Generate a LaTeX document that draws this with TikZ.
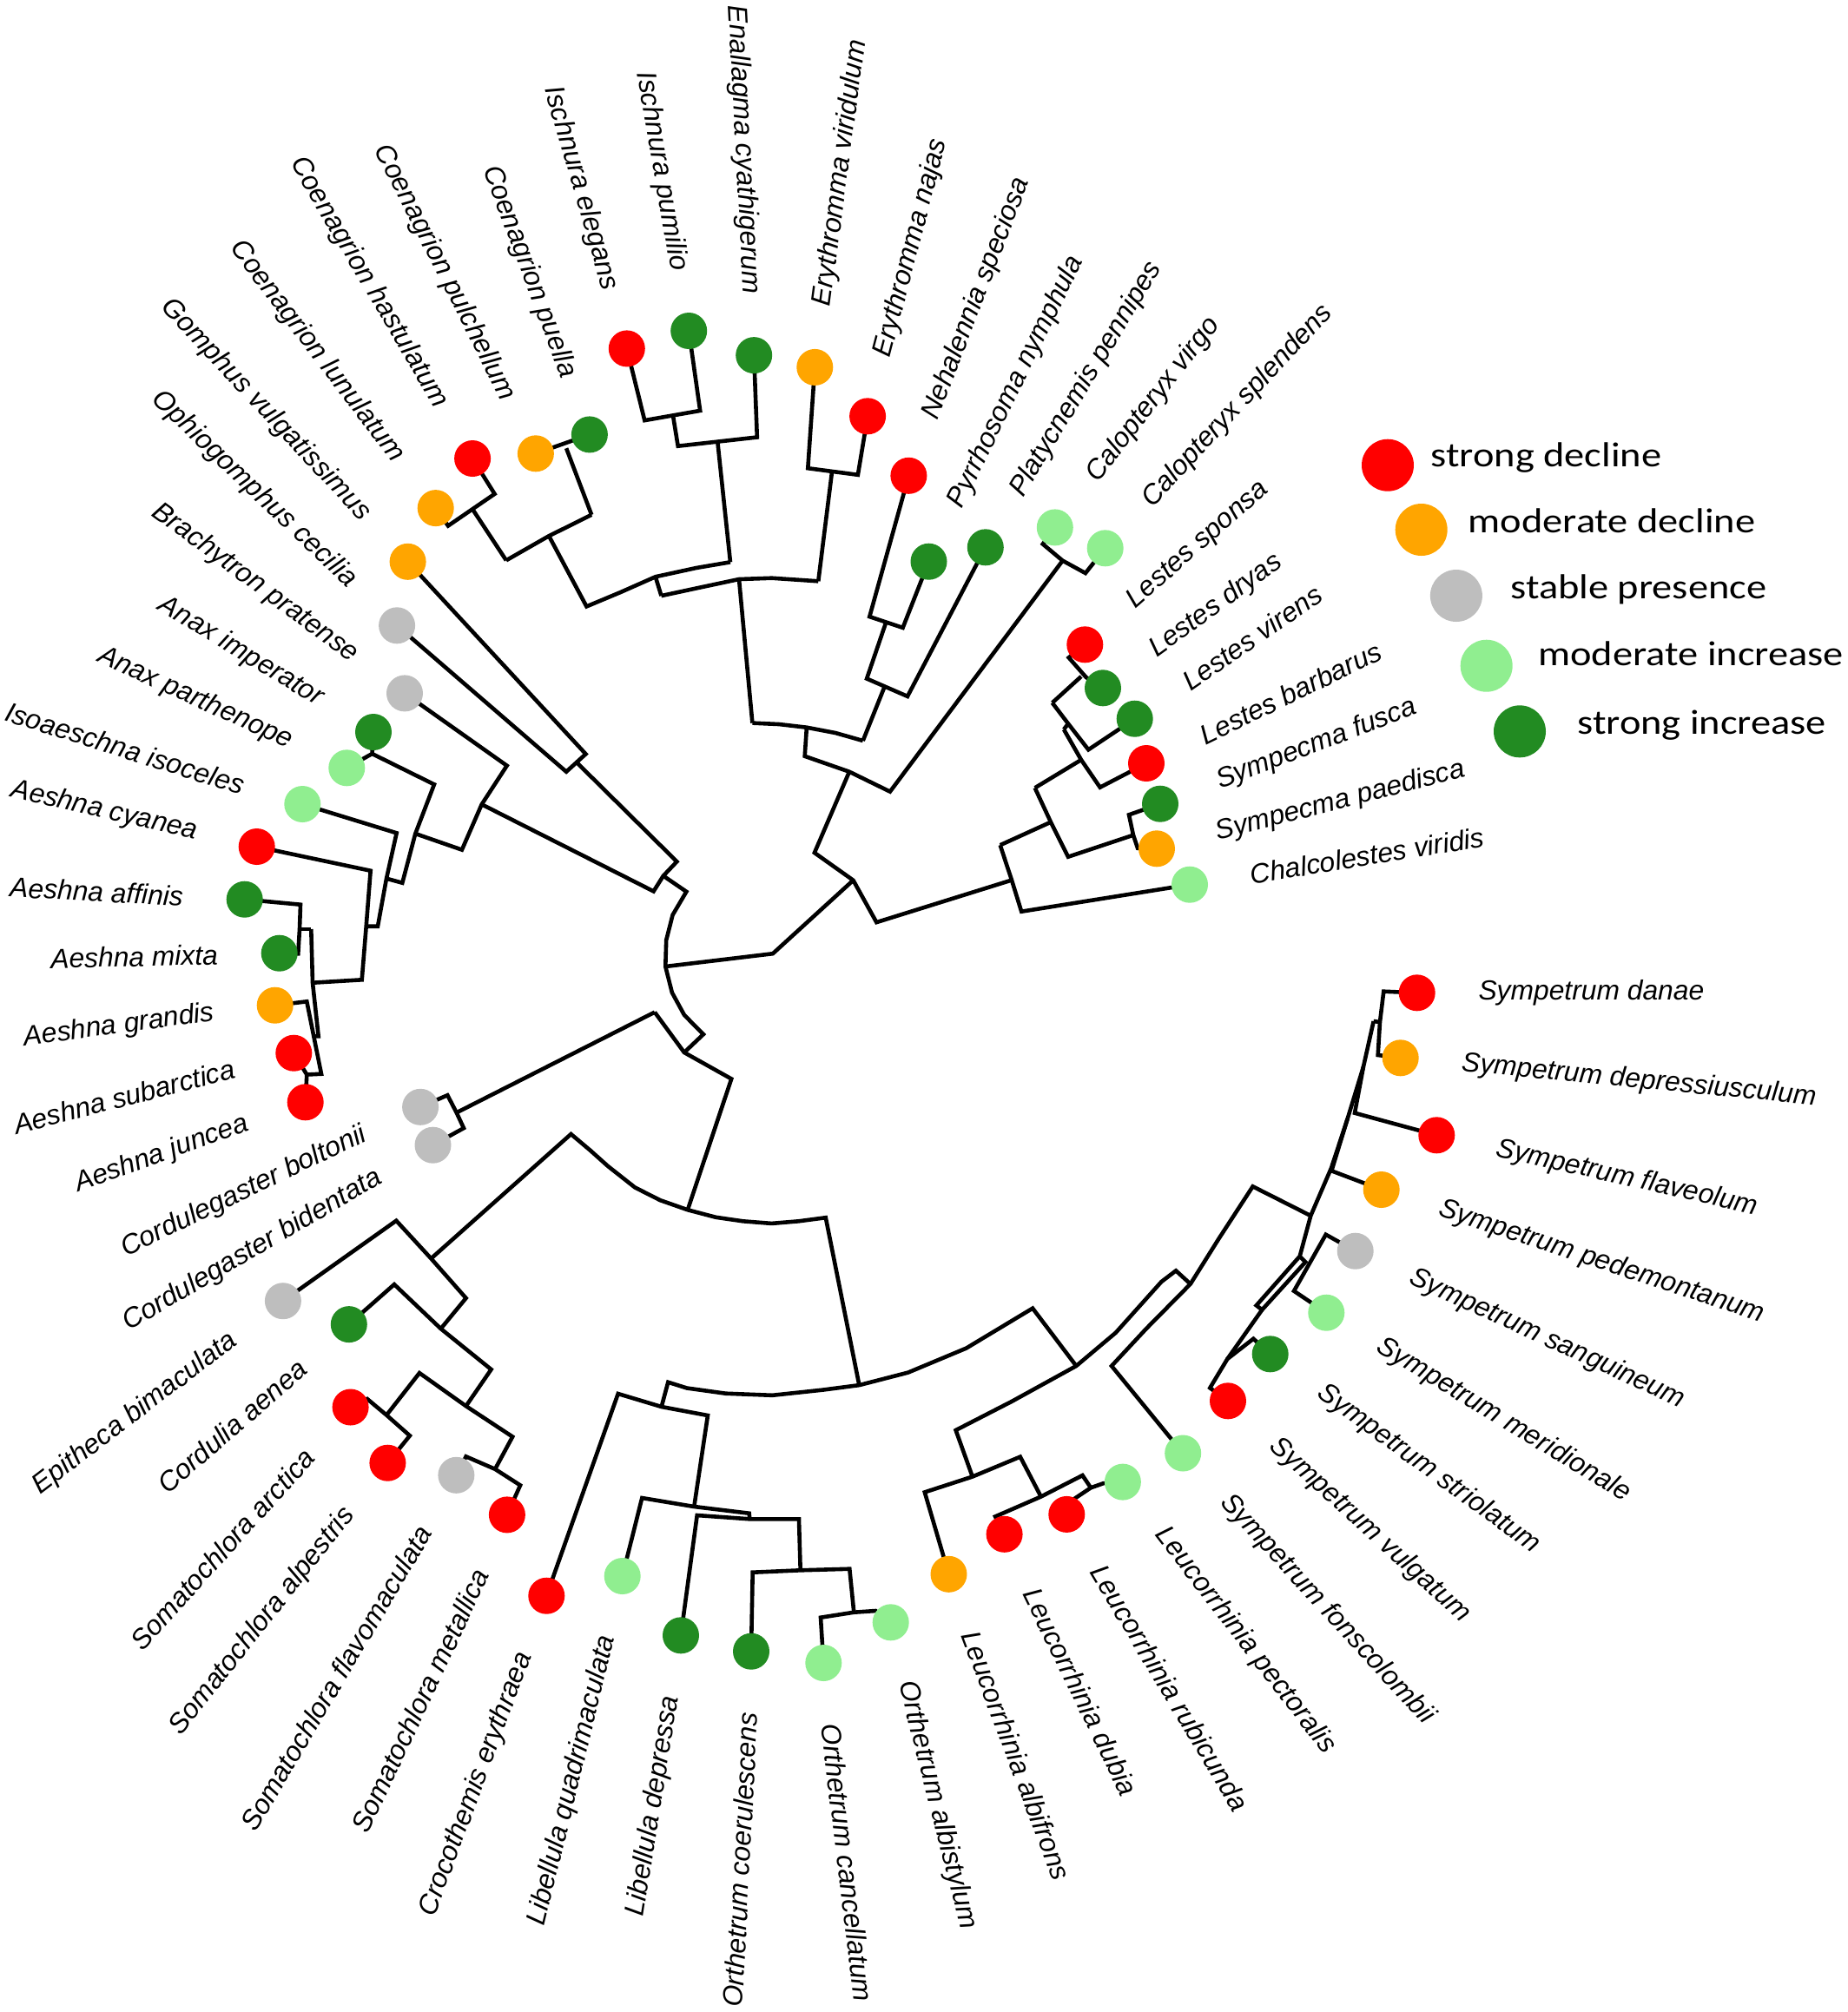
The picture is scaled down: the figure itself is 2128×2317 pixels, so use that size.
\documentclass[tikz,border=0pt]{standalone}
\usepackage{fontspec}
\setmainfont{Liberation Sans}
\newfontfamily\legfont{Carlito}
\usetikzlibrary{calc}
\pgfdeclarelayer{bg}
\pgfsetlayers{bg,main}
\definecolor{cR}{HTML}{FF0000}
\definecolor{cO}{HTML}{FFA500}
\definecolor{cG}{HTML}{BEBEBE}
\definecolor{cL}{HTML}{90EE90}
\definecolor{cD}{HTML}{228B22}
\newcommand\labfont{\fontsize{7.95}{9.5}\selectfont\itshape}
\newcommand\labR[3]{\path (#1.center) ++({70*cos(#2)},{-70*sin(#2)}) node[lab,anchor=west,rotate=#2] (L#1) {#3};}
\newcommand\labL[3]{\path (#1.center) ++({-70*cos(#2)},{70*sin(#2)}) node[lab,anchor=east,rotate=#2] (L#1) {#3};}
\begin{document}
\begin{tikzpicture}[x=0.25pt,y=-0.25pt,
  tipc/.style={circle,inner sep=0pt,minimum size=10.5pt,draw=none},
  legc/.style={circle,inner sep=0pt,minimum size=15pt,draw=none},
  lab/.style={font=\labfont,inner sep=0pt},
  leg/.style={font=\legfont\fontsize{10}{12}\selectfont,inner sep=0pt},
  edge/.style={line width=1.15pt,black}]
\useasboundingbox (0,0) rectangle (2128,2317);
% tips
\node[tipc,fill=cO] (t1) at (938.3,422.9) {};
\node[tipc,fill=cR] (t2) at (999.1,479.3) {};
\node[tipc,fill=cR] (t3) at (1046.4,547.8) {};
\node[tipc,fill=cD] (t4) at (1069.5,646.7) {};
\node[tipc,fill=cD] (t5) at (1134.8,630.3) {};
\node[tipc,fill=cL] (t6) at (1214.8,607.4) {};
\node[tipc,fill=cL] (t7) at (1272.7,631.3) {};
\node[tipc,fill=cR] (t8) at (1249.3,742.3) {};
\node[tipc,fill=cD] (t9) at (1270,792.3) {};
\node[tipc,fill=cD] (t10) at (1306.7,827.7) {};
\node[tipc,fill=cR] (t11) at (1320,879) {};
\node[tipc,fill=cD] (t12) at (1336,925.7) {};
\node[tipc,fill=cO] (t13) at (1332,977.3) {};
\node[tipc,fill=cL] (t14) at (1370,1018.7) {};
\node[tipc,fill=cR] (t15) at (1631.7,1143.3) {};
\node[tipc,fill=cO] (t16) at (1612.7,1218.3) {};
\node[tipc,fill=cR] (t17) at (1654.3,1307.3) {};
\node[tipc,fill=cO] (t18) at (1590.7,1370) {};
\node[tipc,fill=cG] (t19) at (1560.7,1440.7) {};
\node[tipc,fill=cL] (t20) at (1527.3,1511.7) {};
\node[tipc,fill=cD] (t21) at (1462.7,1559.3) {};
\node[tipc,fill=cR] (t22) at (1414,1613.3) {};
\node[tipc,fill=cL] (t23) at (1362.2,1673.5) {};
\node[tipc,fill=cL] (t24) at (1292.9,1706.6) {};
\node[tipc,fill=cR] (t25) at (1228.3,1743.9) {};
\node[tipc,fill=cR] (t26) at (1156.6,1766.8) {};
\node[tipc,fill=cO] (t27) at (1092.5,1812.8) {};
\node[tipc,fill=cL] (t28) at (1025.7,1868.3) {};
\node[tipc,fill=cL] (t29) at (948.3,1915) {};
\node[tipc,fill=cD] (t30) at (865,1901.7) {};
\node[tipc,fill=cD] (t31) at (784,1883.3) {};
\node[tipc,fill=cL] (t32) at (716.7,1815) {};
\node[tipc,fill=cR] (t33) at (629.3,1837.7) {};
\node[tipc,fill=cR] (t34) at (583.9,1744.4) {};
\node[tipc,fill=cG] (t35) at (525.4,1698.8) {};
\node[tipc,fill=cR] (t36) at (446.4,1684.7) {};
\node[tipc,fill=cR] (t37) at (403.6,1620.5) {};
\node[tipc,fill=cD] (t38) at (401.8,1525.1) {};
\node[tipc,fill=cG] (t39) at (325.9,1498.2) {};
\node[tipc,fill=cG] (t40) at (498.5,1318.7) {};
\node[tipc,fill=cG] (t41) at (484.1,1274.8) {};
\node[tipc,fill=cR] (t42) at (351.7,1269.3) {};
\node[tipc,fill=cR] (t43) at (338.3,1212.7) {};
\node[tipc,fill=cO] (t44) at (316.7,1157.7) {};
\node[tipc,fill=cD] (t45) at (321.7,1097.7) {};
\node[tipc,fill=cD] (t46) at (281.7,1035.7) {};
\node[tipc,fill=cR] (t47) at (295.7,975) {};
\node[tipc,fill=cL] (t48) at (348.3,926) {};
\node[tipc,fill=cL] (t49) at (399.3,884.3) {};
\node[tipc,fill=cD] (t50) at (430,843) {};
\node[tipc,fill=cG] (t51) at (466,798.4) {};
\node[tipc,fill=cG] (t52) at (457.1,720.3) {};
\node[tipc,fill=cO] (t53) at (469.6,646.8) {};
\node[tipc,fill=cO] (t54) at (501.7,585.1) {};
\node[tipc,fill=cR] (t55) at (544.1,528) {};
\node[tipc,fill=cO] (t56) at (616.9,522.3) {};
\node[tipc,fill=cD] (t57) at (678.9,500.4) {};
\node[tipc,fill=cR] (t58) at (721.8,401.4) {};
\node[tipc,fill=cD] (t59) at (793.2,381) {};
\node[tipc,fill=cD] (t60) at (868.2,409.1) {};
% labels right
\labR{t1}{82.4}{Erythromma viridulum}
\labR{t2}{75.4}{Erythromma najas}
\labR{t3}{69}{Nehalennia speciosa}
\labR{t4}{64}{Pyrrhosoma nymphula}
\labR{t5}{59}{Platycnemis pennipes}
\labR{t6}{52.3}{Calopteryx virgo}
\labR{t7}{47}{Calopteryx splendens}
\labR{t8}{41.3}{Lestes sponsa}
\labR{t9}{36}{Lestes dryas}
\labR{t10}{34.7}{Lestes virens}
\labR{t11}{26}{Lestes barbarus}
\labR{t12}{20.8}{Sympecma fusca}
\labR{t13}{14.4}{Sympecma paedisca}
\labR{t14}{9.3}{Chalcolestes viridis}
\labR{t15}{0}{Sympetrum danae}
\labR{t16}{-5.5}{Sympetrum depressiusculum}
\labR{t17}{-12.8}{Sympetrum flaveolum}
\labR{t18}{-18.2}{Sympetrum pedemontanum}
\labR{t19}{-24.6}{Sympetrum sanguineum}
\labR{t20}{-31.2}{Sympetrum meridionale}
\labR{t21}{-36}{Sympetrum striolatum}
\labR{t22}{-42.3}{Sympetrum vulgatum}
\labR{t23}{-47.3}{Sympetrum fonscolombii}
\labR{t24}{-52.4}{Leucorrhinia pectoralis}
\labR{t25}{-59.2}{Leucorrhinia rubicunda}
\labR{t26}{-64.1}{Leucorrhinia dubia}
\labR{t27}{-69.5}{Leucorrhinia albifrons}
\labR{t28}{-75.8}{Orthetrum albistylum}
\labR{t29}{-83.2}{Orthetrum cancellatum}
% labels left
\labL{t30}{87}{Orthetrum coerulescens}
\labL{t31}{81}{Libellula depressa}
\labL{t32}{76.3}{Libellula quadrimaculata}
\labL{t33}{69.6}{Crocothemis erythraea}
\labL{t34}{64.9}{Somatochlora metallica}
\labL{t35}{59.3}{Somatochlora flavomaculata}
\labL{t36}{51.7}{Somatochlora alpestris}
\labL{t37}{47.9}{Somatochlora arctica}
\labL{t38}{41}{Cordulia aenea}
\labL{t39}{37.3}{Epitheca bimaculata}
\labL{t40}{30.3}{Cordulegaster bidentata}
\labL{t41}{25.7}{Cordulegaster boltonii}
\labL{t42}{19.9}{Aeshna juncea}
\labL{t43}{14.4}{Aeshna subarctica}
\labL{t44}{7.6}{Aeshna grandis}
\labL{t45}{1.3}{Aeshna mixta}
\labL{t46}{-3}{Aeshna affinis}
\labL{t47}{-13.1}{Aeshna cyanea}
\labL{t48}{-17.5}{Isoaeschna isoceles}
\labL{t49}{-24.6}{Anax parthenope}
\labL{t50}{-31.2}{Anax imperator}
\labL{t51}{-36.4}{Brachytron pratense}
\labL{t52}{-43.6}{Ophiogomphus cecilia}
\labL{t53}{-46.9}{Gomphus vulgatissimus}
\labL{t54}{-52.8}{Coenagrion lunulatum}
\labL{t55}{-59.5}{Coenagrion hastulatum}
\labL{t56}{-63.2}{Coenagrion pulchellum}
\labL{t57}{-69.6}{Coenagrion puella}
\labL{t58}{-73.9}{Ischnura elegans}
\labL{t59}{-80.2}{Ischnura pumilio}
\labL{t60}{-87}{Enallagma cyathigerum}
% legend
\node[legc,fill=cR] (g1) at (1598,535.7) {};
\node[legc,fill=cO] (g2) at (1636.7,610) {};
\node[legc,fill=cG] (g3) at (1676.9,686) {};
\node[legc,fill=cL] (g4) at (1711.7,766.7) {};
\node[legc,fill=cD] (g5) at (1750,842.3) {};
\node[leg,anchor=base west] (k1) at (1646.9,537.3) {\scalebox{1.16}[1]{strong decline}};
\node[leg,anchor=base west] (k2) at (1690,613.3) {\scalebox{1.16}[1]{moderate decline}};
\node[leg,anchor=base west] (k3) at (1738.7,689.3) {\scalebox{1.16}[1]{stable presence}};
\node[leg,anchor=base west] (k4) at (1770.6,766) {\scalebox{1.16}[1]{moderate increase}};
\node[leg,anchor=base west] (k5) at (1815.6,845) {\scalebox{1.16}[1]{strong increase}};
% tree
\begin{pgfonlayer}{bg}
% Zygoptera
\draw[edge] (t58.center) -- (742.3,484.1) -- (806.2,472.9) -- (t59.center);
\draw[edge] (774.9,478) -- (780.7,513.7) -- (871.8,503.5) -- (t60.center);
\draw[edge] (826.3,508.6) -- (841,647.3);
\draw[edge] (t54.center) -- (516,605.5) -- (569.6,568.8) -- (t55.center);
\draw[edge] (545,587.7) -- (582.9,645.3);
\draw[edge] (t56.center) -- (t57.center);
\draw[edge] (652.1,516.2) -- (681.2,592.8);
\draw[edge] (582.9,645.3) -- (632.1,617.2) -- (681.2,592.8);
\draw[edge] (632.1,617.2) -- (675.4,698.4) -- (714.6,682) -- (754.8,664.2) -- (801.7,654) -- (841,647.3);
\draw[edge] (754.8,664.2) -- (761.5,686.1);
\draw[edge] (t1.center) -- (930.3,539.2) -- (987.9,546.8) -- (t2.center);
\draw[edge] (957.9,544.3) -- (942.3,669.3);
\draw[edge] (761.5,686.1) -- (803.9,677) -- (851,667) -- (888.8,665.7) -- (942.3,669.3);
\draw[edge] (851,667) -- (866.4,832.6);
\draw[edge] (t3.center) -- (1001.3,710.1) -- (1039.6,722.9) -- (t4.center);
\draw[edge] (1020.4,716.2) -- (998.1,781.5) -- (1045,801.9) -- (t5.center);
\draw[edge] (1018.2,791.7) -- (993.7,853);
\draw[edge] (866.4,832.6) -- (897,834) -- (928.9,837.7) -- (962,844) -- (993.7,853);
\draw[edge] (928.9,837.7) -- (926.7,870.8) -- (978,888.7) -- (1024.9,911.6) -- (1223.6,645.6);
\draw[edge] (t6.center) -- (1200.8,626.5) -- (1223.6,645.6) -- (1249.9,660) -- (t7.center);
\draw[edge] (978,888.7) -- (937.9,982) -- (982.5,1013.7) -- (1009.3,1062.1) -- (1165,1013.5);
\draw[edge] (982.5,1013.7) -- (889.9,1098.2) -- (766.3,1113);
\draw[edge] (1151.7,973.2) -- (1165,1013.5) -- (1176.2,1049.7) -- (t14.center);
\draw[edge] (1151.7,973.2) -- (1210,946.7);
\draw[edge] (1191.7,907.3) -- (1210,946.7) -- (1230,986.7) -- (1305,961.7);
\draw[edge] (t12.center) -- (1300,938.3) -- (1305,961.7) -- (1310,976.7) -- (t13.center);
\draw[edge] (1191.7,907.3) -- (1245,875);
\draw[edge] (1225,840) -- (1245,875) -- (1266.7,906.7) -- (t11.center);
\draw[edge] (1225,840) -- (1230,833.3);
\draw[edge] (1211.7,809.3) -- (1230,833.3) -- (1253.3,863.3) -- (t10.center);
\draw[edge] (1211.7,809.3) -- (1245,779);
\draw[edge] (t8.center) -- (1230.7,757.3) -- (1250.7,780) -- (t9.center);
% Gomphidae, Aeshnidae
\draw[edge] (t53.center) -- (674.5,868.3) -- (652.1,888.7) -- (t52.center);
\draw[edge] (664.6,878.5) -- (779.4,992.2) -- (763.8,1008.6) -- (752.6,1026.4) -- (554.7,926.3);
\draw[edge] (t51.center) -- (583.7,881.7) -- (554.7,926.3) -- (531.9,978.6) -- (478.3,960);
\draw[edge] (763.8,1008.6) -- (790.4,1026.8) -- (774.6,1053.6) -- (767.2,1082.6) -- (766.3,1113) -- (773.8,1142.9) -- (787.9,1168.8) -- (809.9,1191.1) -- (787.9,1212);
\draw[edge] (t50.center) -- (428.5,868) -- (t49.center);
\draw[edge] (428.5,868) -- (500,903.3) -- (478.3,960) -- (463.3,1016.7) -- (445,1011.7);
\draw[edge] (t48.center) -- (456.7,959.3) -- (445,1011.7) -- (435,1066.7) -- (421.7,1066.7);
\draw[edge] (t47.center) -- (426.7,1002.7) -- (421.7,1066.7) -- (416.7,1128.3) -- (360,1131.7);
\draw[edge] (358.3,1070) -- (360,1131.7) -- (366.7,1193.3) -- (361.3,1193.3);
\draw[edge] (t46.center) -- (346,1041.7) -- (345,1070) -- (343.3,1098.3) -- (t45.center);
\draw[edge] (345,1070) -- (358.3,1070);
\draw[edge] (t44.center) -- (353.3,1153.3) -- (361.3,1193.3) -- (370,1236.7) -- (353.3,1237.5);
\draw[edge] (t43.center) -- (353.3,1237.5) -- (t42.center);
% Cordulegastridae, Corduliidae
\draw[edge] (753.9,1165.6) -- (787.9,1212) -- (842.2,1242.4) -- (792,1392.9);
\draw[edge] (753.9,1165.6) -- (525.7,1281.3);
\draw[edge] (t41.center) -- (515.3,1261.2) -- (525.7,1281.3) -- (534,1299.1) -- (t40.center);
\draw[edge] (496.4,1449.3) -- (657.5,1306) -- (680,1325) -- (700,1342.9) -- (731.1,1367.4) -- (760.1,1382.1) -- (792,1393.3) -- (824.4,1401.8) -- (855.5,1406.3) -- (888.6,1408.9) -- (919.7,1406.3) -- (950.8,1402.2) -- (989.4,1595.1);
\draw[edge] (t39.center) -- (456.3,1405.7) -- (496.4,1449.3) -- (536.6,1494.9) -- (507.6,1530.1);
\draw[edge] (t38.center) -- (454,1479.1) -- (507.6,1530.1) -- (565.6,1577) -- (536.6,1619.2);
\draw[edge] (445.1,1629.6) -- (483,1581.1) -- (536.6,1619.2) -- (590.2,1654.5) -- (570.1,1691.8);
\draw[edge] (t37.center) -- (422.8,1610.9) -- (445.1,1629.6) -- (471.9,1653.3) -- (t36.center);
\draw[edge] (t35.center) -- (536.6,1677.3) -- (570.1,1691.8) -- (599.1,1710.4) -- (t34.center);
% Libellulidae
\draw[edge] (761.7,1620) -- (769.3,1591.7) -- (791,1598.5) -- (835.7,1604.7) -- (889.3,1606.8) -- (947.3,1600.6) -- (989.4,1595.1) -- (1045.6,1580.6) -- (1112.6,1552.6) -- (1189.1,1506.6) -- (1239.3,1573);
\draw[edge] (t33.center) -- (711.7,1605) -- (761.7,1620) -- (815,1630) -- (799.3,1735);
\draw[edge] (t32.center) -- (739.3,1725) -- (799.3,1735) -- (862.7,1742.7) -- (863.3,1749.3);
\draw[edge] (t31.center) -- (802.7,1745) -- (863.3,1749.3) -- (920,1749.3) -- (921.7,1808.3);
\draw[edge] (t30.center) -- (866.7,1810.7) -- (921.7,1808.3) -- (978.3,1806.7) -- (983.3,1856.7);
\draw[edge] (t29.center) -- (945,1862.7) -- (983.3,1856.7) -- (1008.3,1855) -- (t28.center);
\draw[edge] (1119.8,1700.5) -- (1100.6,1647) -- (1165.2,1613.8) -- (1239.3,1573) -- (1284.8,1534.7) -- (1337.4,1476) -- (1354.1,1463.3) -- (1370.8,1478.6);
\draw[edge] (t27.center) -- (1064.8,1718.4) -- (1119.8,1700.5) -- (1174.8,1677.6) -- (1198.7,1723.5);
\draw[edge] (t26.center) -- (1146.1,1746.4) -- (1198.7,1723.5) -- (1246.5,1699) -- (1256.1,1713.3);
\draw[edge] (t25.center) -- (1237,1726) -- (1256.1,1713.3) -- (1270.4,1708.2) -- (t24.center);
\draw[edge] (t23.center) -- (1280,1573) -- (1320,1530) -- (1370.8,1478.6) -- (1403.3,1426.7) -- (1442.6,1366.3) -- (1509.3,1400);
\draw[edge] (1551.7,1288.3) -- (1533,1345) -- (1509.3,1400) -- (1496.7,1446.7) -- (1446.7,1503.3) -- (1453.3,1508.3) -- (1503.3,1453.3) -- (1496.7,1446.7);
\draw[edge] (t19.center) -- (1526.7,1421.7) -- (1490,1486.7) -- (t20.center);
\draw[edge] (1453.3,1508.3) -- (1413.3,1565);
\draw[edge] (t21.center) -- (1443.3,1541.7) -- (1413.3,1565) -- (1393.3,1598.3) -- (t22.center);
\draw[edge] (1570,1228.3) -- (1551.7,1288.3) -- (1533.3,1348.3) -- (t18.center);
\draw[edge] (1581.7,1176) -- (1570,1228.3) -- (1560,1281.7) -- (t17.center);
\draw[edge] (t15.center) -- (1593.3,1141.7) -- (1589,1177) -- (1586.7,1215) -- (t16.center);
\draw[edge] (1589,1177) -- (1581.7,1176);
\end{pgfonlayer}
\end{tikzpicture}
\end{document}
